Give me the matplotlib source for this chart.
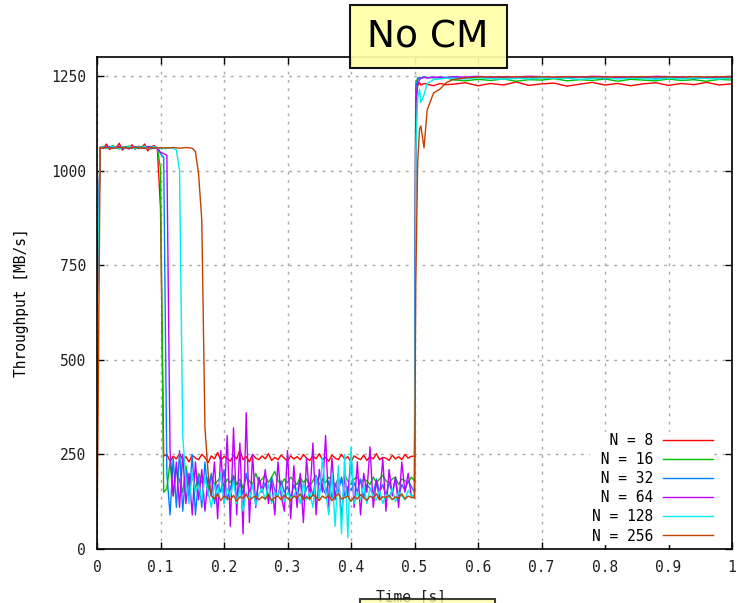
import numpy as np
import matplotlib
matplotlib.use('Agg')
import matplotlib.pyplot as plt
from matplotlib.patches import Rectangle

# ---------------------------------------------------------------------------
# Data (throughput in MB/s)

labels = ['N = 8', 'N = 16', 'N = 32', 'N = 64', 'N = 128', 'N = 256']
colors = ['#ff0000', '#00c000', '#0080ff', '#c000ff', '#00eeee', '#c04000']

# sample times of each segment [s]
t_a = np.arange(22) * 0.005            # 0 .. 0.105, high plateau
t_b = 0.11 + np.arange(78) * 0.005     # 0.11 .. 0.495, congested phase
t_c = [0.5, 0.502, 0.505, 0.508, 0.51, 0.515, 0.52, 0.53, 0.54, 0.55]
t_d = 0.56 + np.arange(23) * 0.02      # 0.56 .. 1.0, recovered

n8_a = [630, 1062, 1058, 1070, 1055, 1066, 1060, 1072, 1054, 1063, 1058,
        1068, 1056, 1064, 1060, 1070, 1052, 1062, 1066, 1058, 900, 245]
n8_b = [250, 232, 245, 238, 252, 236, 244, 230, 248, 240,
        236, 250, 242, 228, 246, 238, 255, 234, 244, 240,
        232, 248, 238, 262, 236, 244, 230, 250, 240, 236,
        246, 238, 252, 234, 242, 236, 248, 240, 232, 246,
        238, 244, 236, 250, 240, 234, 246, 238, 252, 236,
        242, 232, 248, 240, 236, 250, 238, 244, 230, 246,
        240, 236, 248, 234, 244, 238, 252, 236, 242, 240,
        234, 248, 238, 244, 236, 250, 240, 245]
n8_c = [245, 1180, 1225, 1232, 1226, 1230, 1228, 1224, 1230, 1227]
n8_d = [1228, 1232, 1224, 1230, 1226, 1234, 1225, 1229, 1231, 1223, 1228, 1233,
        1226, 1230, 1224, 1229, 1232, 1225, 1230, 1227, 1233, 1226, 1229]

n16_a = [630, 1060, 1064, 1058, 1062, 1066, 1060, 1057, 1063, 1061, 1065,
         1059, 1062, 1058, 1064, 1060, 1062, 1057, 1063, 1060, 1005, 150]
n16_b = [160, 230, 140, 210, 180, 150, 220, 170, 190, 160,
         200, 175, 185, 160, 195, 170, 180, 190, 165, 185,
         175, 195, 170, 185, 160, 190, 180, 170, 200, 175,
         185, 195, 175, 190, 205, 180, 170, 185, 175, 190,
         180, 170, 190, 175, 185, 165, 180, 195, 170, 185,
         175, 190, 180, 170, 185, 175, 195, 180, 170, 185,
         190, 175, 185, 180, 170, 190, 175, 185, 195, 180,
         175, 185, 190, 170, 185, 180, 175, 190]
n16_c = [180, 1230, 1245, 1246, 1244, 1247, 1245, 1246, 1244, 1246]
n16_d = [1240, 1237, 1241, 1238, 1242, 1236, 1240, 1239, 1243, 1237, 1240, 1238,
         1242, 1236, 1241, 1239, 1237, 1242, 1238, 1240, 1236, 1241, 1239]

n32_a = [630, 1058, 1062, 1060, 1064, 1059, 1061, 1063, 1057, 1062, 1060,
         1058, 1063, 1061, 1059, 1062, 1060, 1064, 1058, 1061, 1045, 1035]
n32_b = [200, 90, 240, 110, 260, 100, 210, 130, 250, 90,
         190, 110, 230, 140, 200, 120, 170, 150, 210, 130,
         160, 190, 130, 175, 145, 200, 150, 170, 125, 185,
         150, 175, 130, 190, 155, 140, 180, 150, 165, 135,
         170, 145, 185, 130, 160, 175, 140, 190, 150, 165,
         145, 180, 135, 170, 150, 190, 140, 165, 155, 175,
         150, 185, 135, 170, 160, 145, 185, 150, 170, 140,
         175, 150, 185, 140, 170, 155, 180, 165]
n32_c = [150, 1220, 1240, 1246, 1245, 1247, 1246, 1245, 1247, 1246]
n32_d = [1246, 1244, 1247, 1245, 1246, 1243, 1247, 1245, 1244, 1246, 1247, 1245,
         1243, 1246, 1245, 1247, 1244, 1246, 1245, 1243, 1246, 1245, 1247]

n64_a = [630, 1061, 1059, 1063, 1058, 1062, 1060, 1064, 1059, 1061, 1057,
         1062, 1060, 1063, 1058, 1061, 1064, 1059, 1062, 1060, 1048, 1045]
n64_b = [1040, 260, 140, 230, 110, 250, 120, 200, 90, 230,
         130, 210, 100, 190, 140, 230, 80, 260, 120, 300,
         60, 320, 90, 280, 40, 360, 70, 250, 110, 190,
         150, 210, 120, 180, 90, 230, 140, 100, 260, 80,
         220, 110, 200, 70, 240, 130, 280, 90, 210, 150,
         300, 100, 240, 130, 200, 80, 190, 140, 250, 110,
         230, 90, 200, 150, 270, 110, 180, 130, 240, 100,
         210, 140, 190, 110, 230, 150, 200, 140]
n64_c = [140, 1180, 1230, 1240, 1244, 1246, 1245, 1247, 1246, 1245]
n64_d = [1248, 1247, 1249, 1246, 1248, 1247, 1249, 1248, 1246, 1248, 1247, 1249,
         1248, 1246, 1248, 1247, 1249, 1248, 1247, 1248, 1246, 1248, 1247]

n128_a = [630, 1059, 1062, 1058, 1061, 1064, 1060, 1058, 1062, 1059, 1063,
          1061, 1057, 1062, 1060, 1064, 1059, 1061, 1063, 1060, 1058, 1058]
n128_b = [1058, 1060, 1058, 1055, 1000, 300, 180, 120, 200, 150,
          170, 130, 190, 150, 110, 170, 140, 200, 120, 160,
          140, 180, 120, 160, 100, 150, 130, 170, 115, 145,
          160, 130, 170, 120, 150, 140, 165, 125, 150, 135,
          140, 160, 120, 175, 130, 150, 110, 190, 130, 240,
          150, 90, 200, 60, 220, 40, 250, 30, 270, 120,
          150, 130, 170, 120, 160, 140, 130, 155, 120, 145,
          135, 160, 125, 150, 140, 130, 155, 140]
n128_c = [140, 1050, 1190, 1215, 1180, 1200, 1230, 1240, 1242, 1244]
n128_d = [1244, 1242, 1245, 1243, 1241, 1244, 1242, 1245, 1243, 1244, 1241, 1243,
          1245, 1242, 1244, 1243, 1241, 1244, 1242, 1245, 1243, 1242, 1244]

n256_a = [0, 1060, 1060, 1061, 1060, 1059, 1060, 1061, 1060, 1060, 1059,
          1060, 1061, 1060, 1060, 1059, 1060, 1061, 1060, 1060, 1060, 1060]
n256_b = [1060, 1060, 1061, 1060, 1059, 1060, 1061, 1060, 1059, 1050,
          990, 870, 320, 200, 140, 132, 145, 128, 140, 135,
          130, 142, 126, 138, 134, 145, 128, 136, 140, 130,
          138, 132, 144, 128, 136, 140, 130, 142, 134, 128,
          140, 134, 146, 130, 138, 132, 144, 136, 128, 140,
          134, 142, 128, 138, 146, 132, 136, 140, 126, 138,
          132, 144, 136, 128, 140, 134, 146, 130, 138, 136,
          142, 130, 138, 134, 146, 132, 140, 136]
n256_c = [135, 700, 1020, 1110, 1118, 1060, 1160, 1205, 1215, 1232]
n256_d = [1240, 1245, 1247, 1248, 1247, 1248, 1247, 1248, 1247, 1248, 1247, 1248,
          1247, 1248, 1247, 1248, 1247, 1248, 1247, 1248, 1247, 1248, 1247]

series = [
    (n8_a, n8_b, n8_c, n8_d),
    (n16_a, n16_b, n16_c, n16_d),
    (n32_a, n32_b, n32_c, n32_d),
    (n64_a, n64_b, n64_c, n64_d),
    (n128_a, n128_b, n128_c, n128_d),
    (n256_a, n256_b, n256_c, n256_d),
]

# ---------------------------------------------------------------------------
# Figure

mono = 'DejaVu Sans Mono'
W, H = 739, 603
fig = plt.figure(figsize=(W / 100, H / 100), dpi=100)
ax = fig.add_axes([97 / W, (H - 549) / H, (732 - 97) / W, (549 - 57) / H])

t_all = np.concatenate([t_a, t_b, t_c, t_d])
width = max(len(l) for l in labels)
for (a, b, c, d), lab, col in zip(series, labels, colors):
    y = np.concatenate([a, b, c, d])
    ax.plot(t_all, y, color=col, lw=1.0, label=lab.rjust(width))

ax.set_xlim(0, 1)
ax.set_ylim(0, 1300)
ax.set_xticks(np.round(np.arange(0, 1.01, 0.1), 1))
ax.set_xticklabels(['0'] + ['%.1f' % v for v in np.arange(0.1, 0.95, 0.1)] + ['1'])
ax.set_yticks(range(0, 1251, 250))
ax.grid(True, color='#a8a8a8', linestyle=(0, (2, 4)), lw=1.0)
ax.tick_params(direction='in', top=True, right=True, length=5, width=1,
               labelsize=10.5, pad=8)
for lab in ax.get_xticklabels() + ax.get_yticklabels():
    lab.set_family(mono)
    lab.set_color('#202020')
for s in ax.spines.values():
    s.set_linewidth(1.2)

ax.set_ylabel('Throughput [MB/s]', family=mono, fontsize=10.5, labelpad=16)
# x label sits low, partly under the yellow box
fig.text(411 / W, 1 - 597 / H, 'Time [s]', family=mono, fontsize=10.5,
         ha='center', va='center', color='#202020')

leg = ax.legend(loc='lower right', bbox_to_anchor=((714 - 97) / 635, 4 / 492),
                markerfirst=False, handlelength=3.4, handletextpad=0.7,
                labelspacing=0.28, borderpad=0.1, borderaxespad=0,
                prop={'family': mono, 'size': 10.5}, frameon=True,
                facecolor='white', edgecolor='none', framealpha=1.0)

# yellow title box
fig.add_artist(Rectangle((350 / W, (H - 68) / H), 157 / W, 63 / H,
                         transform=fig.transFigure, facecolor='#ffffa8',
                         edgecolor='black', lw=1.5, alpha=0.92, zorder=10))
fig.text(428 / W, 1 - 37 / H, 'No CM', ha='center', va='center',
         fontsize=27, family='DejaVu Sans', zorder=11)

# yellow box at the bottom (partly covering the x label)
fig.add_artist(Rectangle((360 / W, -0.02), 135 / W, 0.02 + 4 / H,
                         transform=fig.transFigure, facecolor='#ffffa8',
                         edgecolor='black', lw=1.5, alpha=0.75, zorder=10))

fig.savefig('out.png', dpi=100)
